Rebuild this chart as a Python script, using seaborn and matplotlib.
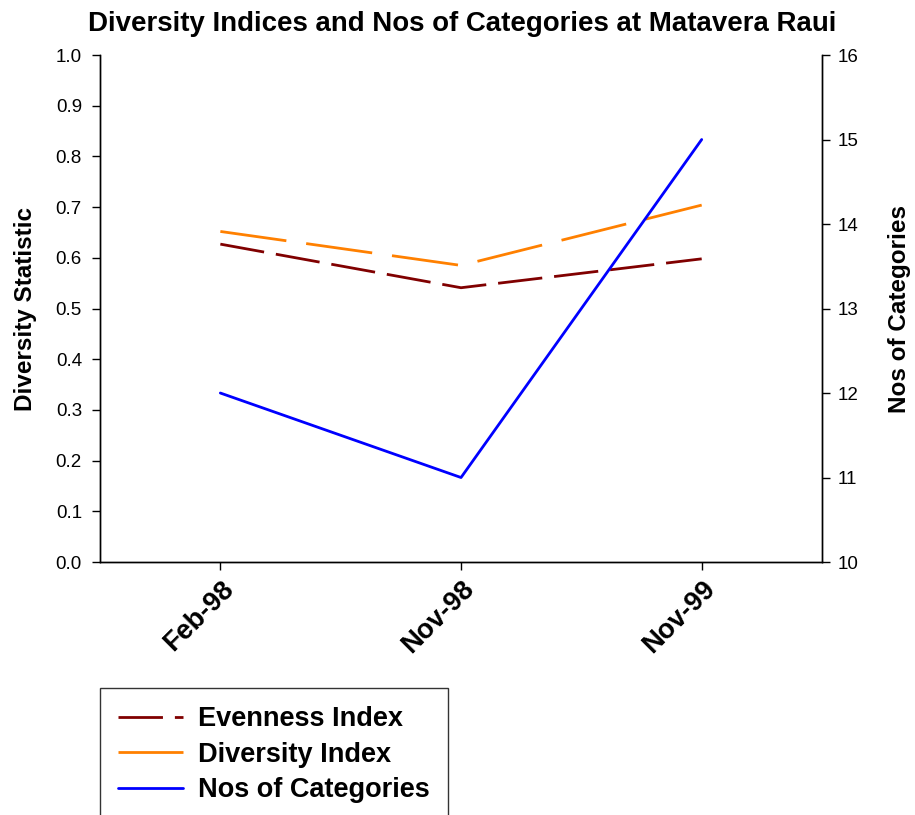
import matplotlib
matplotlib.use("Agg")
import matplotlib.pyplot as plt
import seaborn as sns
import pandas as pd

sns.set_style("white")
plt.rcParams['font.family'] = ['Liberation Sans', 'DejaVu Sans']
plt.rcParams['lines.scale_dashes'] = False
plt.rcParams['text.color'] = 'black'
plt.rcParams['axes.labelcolor'] = 'black'
plt.rcParams['xtick.color'] = 'black'
plt.rcParams['ytick.color'] = 'black'

dates = ["Feb-98", "Nov-98", "Nov-99"]
evenness = [0.627, 0.541, 0.598]
diversity = [0.652, 0.585, 0.704]
categories = [12, 11, 15]

df = pd.DataFrame({"pos": range(len(dates)), "date": dates,
                   "evenness": evenness, "diversity": diversity,
                   "categories": categories})

fig = plt.figure(figsize=(9.15, 8.15), dpi=100)
ax = fig.add_axes([0.1093, 0.3104, 0.7891, 0.6221])
ax2 = ax.twinx()

sns.lineplot(data=df, x="pos", y="evenness", ax=ax, color="#800000",
             linewidth=2, label="Evenness Index", legend=False)
ax.lines[-1].set_dashes((32, 8.6))
sns.lineplot(data=df, x="pos", y="diversity", ax=ax, color="#FF8000",
             linewidth=2, label="Diversity Index", legend=False)
ax.lines[-1].set_dashes((48, 14.4))
sns.lineplot(data=df, x="pos", y="categories", ax=ax2, color="#0000FF",
             linewidth=2, label="Nos of Categories", legend=False)

ax.set_xlim(-0.5, 2.5)
ax.set_ylim(0, 1.0)
ax.set_yticks([i / 10 for i in range(11)])
ax.set_yticklabels([f"{i / 10:.1f}" for i in range(11)], fontsize=13.5)
ax2.set_ylim(10, 16)
ax2.set_yticks(range(10, 17))
ax2.set_yticklabels([str(v) for v in range(10, 17)], fontsize=13.5)

ax.set_xticks(df["pos"])
ax.set_xticklabels(dates, rotation=45, ha="right", rotation_mode="anchor",
                   fontsize=19.5, fontweight="bold")
ax.set_xlabel("")
ax.set_ylabel("Diversity Statistic", fontsize=17.5, fontweight="bold", labelpad=13.5)
ax2.set_ylabel("Nos of Categories", fontsize=17.5, fontweight="bold", labelpad=21.5)

for a in (ax, ax2):
    a.spines["top"].set_visible(False)
    for s in ("left", "right", "bottom"):
        a.spines[s].set_color("black")
        a.spines[s].set_linewidth(1)
ax.tick_params(axis="y", which="major", direction="out", length=6, width=1,
               left=True, pad=7)
ax.tick_params(axis="x", which="major", direction="out", length=6, width=1,
               bottom=True, pad=4)
ax2.tick_params(axis="y", which="major", direction="out", length=6, width=1,
                right=True, pad=5)

fig.suptitle("Diversity Indices and Nos of Categories at Matavera Raui",
             x=0.505, y=0.987, fontsize=19.9, fontweight="bold")

handles = ax.lines[:2] + ax2.lines[:1]
labels = ["Evenness Index", "Diversity Index", "Nos of Categories"]
leg = fig.legend(handles, labels, loc="upper left",
                 bbox_to_anchor=(0.1093, 1 - 688 / 815),
                 prop={"weight": "bold", "size": 19.5},
                 frameon=True, fancybox=False, edgecolor="black",
                 borderpad=0.68, labelspacing=0.35, handlelength=2.4,
                 handletextpad=0.55, borderaxespad=0)
leg.get_frame().set_linewidth(1)

fig.savefig("out.png", dpi=100)
